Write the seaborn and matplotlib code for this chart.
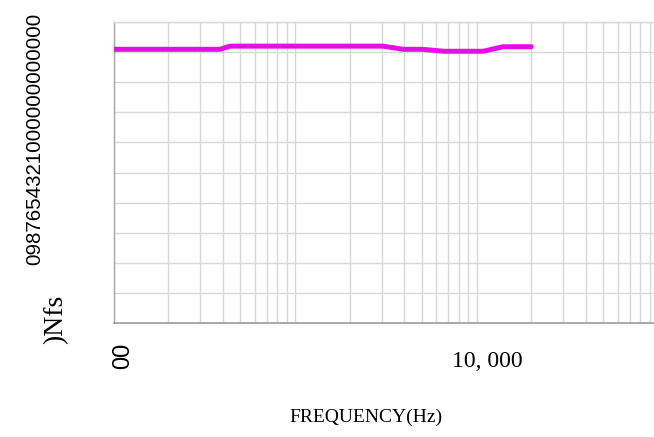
import matplotlib
matplotlib.use("Agg")
import matplotlib.pyplot as plt
import matplotlib.transforms as mtransforms
from matplotlib.ticker import FixedLocator, LogLocator, NullFormatter
import pandas as pd
import seaborn as sns

# Frequency response trace
freq_hz = [100, 385, 440, 3050, 3950, 5000, 6600, 10900, 14000, 20000]
level = [90.85, 90.85, 91.9, 91.9, 90.85, 90.85, 90.2, 90.2, 91.7, 91.7]

# Axis annotations
x_tick_values = [100, 10000]
x_tick_labels = ["00", "10, 000"]
y_grid_values = [0, 10, 20, 30, 40, 50, 60, 70, 80, 90, 100]
y_digit_strip = "0987654321000000000000"
y_title = ")Nfs"
x_title = "FREQUENCY(Hz)"

sns.set_theme(style="white")
sans = ["Liberation Sans", "DejaVu Sans"]
serif = ["Liberation Serif", "DejaVu Serif"]

W, H = 654, 437
fig = plt.figure(figsize=(W / 100, H / 100), dpi=100)
ax_left, ax_right, ax_top, ax_bottom = 113.5, 654.0, 21.7, 323.3
ax = fig.add_axes([ax_left / W, 1 - ax_bottom / H,
                   (ax_right - ax_left) / W, (ax_bottom - ax_top) / H])

df = pd.DataFrame({"freq": freq_hz, "level": level})
sns.lineplot(data=df, x="freq", y="level", ax=ax, color="#e80ce8", lw=3.6,
             solid_joinstyle="round", solid_capstyle="round", zorder=3)

ax.set_xscale("log")
ax.set_xlim(100, 95000)
ax.set_ylim(0, 100)
ax.set_yticks(y_grid_values)
ax.xaxis.set_major_locator(FixedLocator(x_tick_values))
ax.xaxis.set_minor_locator(LogLocator(base=10, subs=range(1, 10), numticks=30))
ax.xaxis.set_minor_formatter(NullFormatter())

grid_color = "#d8d8d8"
ax.grid(which="both", axis="x", color=grid_color, lw=1.0)
ax.grid(which="major", axis="y", color=grid_color, lw=1.0)
ax.set_axisbelow(True)

ax.spines["right"].set_visible(False)
ax.spines["top"].set_color(grid_color)
ax.spines["top"].set_linewidth(1.0)
ax.spines["left"].set_color("#a8a8a8")
ax.spines["left"].set_linewidth(1.0)
ax.spines["bottom"].set_color("#9c9c9c")
ax.spines["bottom"].set_linewidth(1.2)

ax.tick_params(axis="y", which="major", direction="in", length=3.6, width=1.0,
               color="#a8a8a8", labelleft=False)
ax.tick_params(axis="x", which="major", direction="in", length=9.5, width=1.0,
               color="#8a8a8a", pad=0)
ax.tick_params(axis="x", which="minor", length=0)
ax.set_xticklabels(x_tick_labels)
ax.set_xlabel("")
ax.set_ylabel("")

# tick label styling: the low end label stands upright, the 10k label is flat
lab_low, lab_high = ax.get_xticklabels()
lab_low.set(rotation=90, rotation_mode="anchor", ha="right", va="baseline",
            fontfamily=sans, fontsize=17, color="black")
lab_low.set_transform(lab_low.get_transform() +
                      mtransforms.ScaledTranslation(15.5 / 100, -19.7 / 100, fig.dpi_scale_trans))
lab_high.set(fontfamily=serif, fontsize=17, color="black", ha="center", va="top")
lab_high.set_transform(lab_high.get_transform() +
                       mtransforms.ScaledTranslation(10.6 / 100, -28.0 / 100, fig.dpi_scale_trans))

# axis titles
fig.text(366 / W, 1 - 417 / H, x_title, ha="center", va="center",
         fontfamily=serif, fontsize=14, color="black")
fig.text(40 / W, 1 - 139 / H, y_digit_strip, rotation=90, rotation_mode="anchor",
         ha="center", va="baseline", fontfamily=sans, fontsize=14.8, color="black")
fig.text(62 / W, 1 - 319.5 / H, y_title, rotation=90, rotation_mode="anchor",
         ha="center", va="baseline", fontfamily=serif, fontsize=20, color="black")

fig.savefig("out.png", dpi=100, facecolor="white")
